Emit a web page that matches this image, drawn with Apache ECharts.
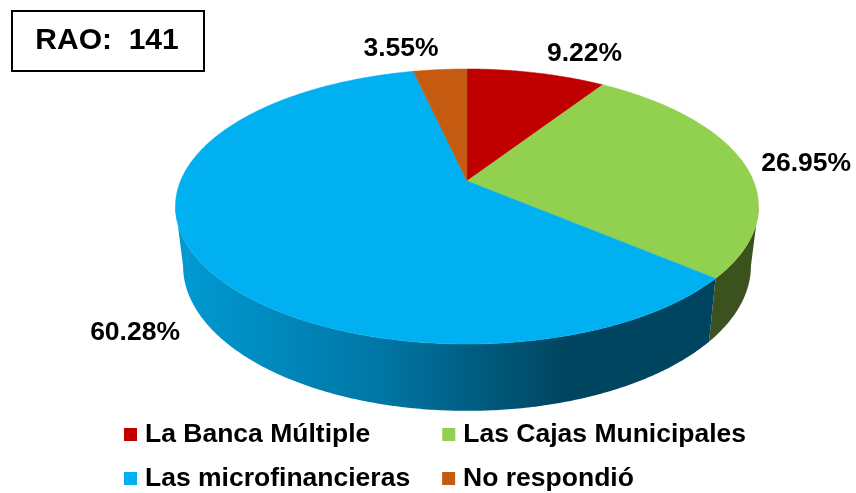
<!DOCTYPE html>
<html>
<head>
<meta charset="utf-8">
<title>RAO</title>
<style>
  html, body { margin: 0; padding: 0; background: #fff; }
  #main { width: 856px; height: 493px; }
</style>
<script src="https://cdn.jsdelivr.net/npm/echarts@6/dist/echarts.min.js"></script>
</head>
<body>
<div id="main"></div>
<script>
// datos del grafico
var categories = ['La Banca Múltiple', 'Las Cajas Municipales', 'Las microfinancieras', 'No respondió'];
var values = [9.22, 26.95, 60.28, 3.55];
var boxText = 'RAO:  141';

// colores de cada rebanada
var topColors = ['#c00000', '#92d050', '#00b0f0', '#c55a11'];
var wallColors = ['#600000', '#3c521e', null, '#62300a'];

// disco superior e inferior en perspectiva (la cara lejana se ve mas chica)
var persp = 0.1854;
var topDisc = { cx: 467, cy: 181, rx: 286.5, ry: 132.8 };
var botDisc = { cx: 467, cy: 239, rx: 279, ry: 140 };

// etiquetas: desplazamiento desde el borde del disco
var labelOffsets = [[48, -19], [63, 1], [-61, 75], [-39, -21]];

var fontName = '"Liberation Sans", Arial, sans-serif';

function rim(disc, a) {
  var u = Math.sin(a), v = Math.cos(a), d = 1 + persp * v;
  return [disc.cx + disc.rx * u / d, disc.cy - disc.ry * v / d];
}

function arc(disc, a0, a1) {
  var n = Math.max(2, Math.ceil(Math.abs(a1 - a0) / 0.01));
  var pts = [];
  for (var i = 0; i <= n; i++) {
    pts.push(rim(disc, a0 + (a1 - a0) * i / n));
  }
  return pts;
}

// angulo acumulado donde empieza cada rebanada (desde arriba, horario)
var total = values.reduce(function (s, v) { return s + v; }, 0);
var starts = [];
values.reduce(function (s, v, i) { starts[i] = s; return s + v; }, 0);

// la pared solo se ve en la mitad de adelante
var wallFrom = Math.acos(-persp);
var wallTo = 2 * Math.PI - wallFrom;

var blueWall = new echarts.graphic.LinearGradient(0, 0, 1, 0, [
  { offset: 0, color: '#009bd4' },
  { offset: 0.38, color: '#0076a5' },
  { offset: 0.72, color: '#00455f' },
  { offset: 1, color: '#00455f' }
]);

function makeSlice(idx) {
  return function (params, api) {
    var val = api.value(0);
    var a0 = starts[idx] / total * 2 * Math.PI;
    var a1 = a0 + val / total * 2 * Math.PI;
    var children = [];

    var w0 = Math.max(a0, wallFrom), w1 = Math.min(a1, wallTo);
    if (w1 > w0) {
      children.push({
        type: 'polygon',
        shape: { points: arc(topDisc, w0, w1).concat(arc(botDisc, w1, w0)) },
        style: { fill: wallColors[idx] || blueWall }
      });
    }

    var c = [topDisc.cx, topDisc.cy];
    children.push({
      type: 'polygon',
      shape: { points: [c].concat(arc(topDisc, a0, a1)) },
      style: { fill: topColors[idx], stroke: topColors[idx], lineWidth: 0.5 }
    });

    var mid = rim(topDisc, (a0 + a1) / 2);
    children.push({
      type: 'text',
      z2: 10,
      style: {
        x: mid[0] + labelOffsets[idx][0],
        y: mid[1] + labelOffsets[idx][1],
        text: val.toFixed(2) + '%',
        fill: '#000',
        font: 'bold 26.5px ' + fontName,
        align: 'center',
        verticalAlign: 'middle'
      }
    });
    return { type: 'group', children: children };
  };
}

var chart = echarts.init(document.getElementById('main'), null, { renderer: 'canvas' });

var legendBase = {
  orient: 'horizontal',
  left: 124,
  icon: 'rect',
  itemWidth: 13,
  itemHeight: 13,
  selectedMode: false,
  padding: 0,
  textStyle: { color: '#000', fontFamily: fontName, fontWeight: 'bold', fontSize: 26.5, padding: [0, 0, 0, 3] }
};

chart.setOption({
  backgroundColor: '#fff',
  animation: false,
  legend: [
    Object.assign({}, legendBase, { top: 421, itemGap: 72, data: categories.slice(0, 2) }),
    Object.assign({}, legendBase, { top: 465, itemGap: 32, data: [categories[2], categories[3]] })
  ],
  graphic: [
    {
      type: 'rect',
      shape: { x: 12, y: 11, width: 192, height: 60 },
      style: { fill: '#fff', stroke: '#000', lineWidth: 2 }
    },
    {
      type: 'text',
      style: {
        x: 107, y: 41,
        text: boxText,
        fill: '#000',
        font: 'bold 30px ' + fontName,
        align: 'center',
        verticalAlign: 'middle'
      }
    }
  ],
  series: categories.map(function (name, i) {
    return {
      type: 'custom',
      name: name,
      coordinateSystem: 'none',
      renderItem: makeSlice(i),
      itemStyle: { color: topColors[i] },
      silent: true,
      data: [[values[i]]]
    };
  })
});
</script>
</body>
</html>
